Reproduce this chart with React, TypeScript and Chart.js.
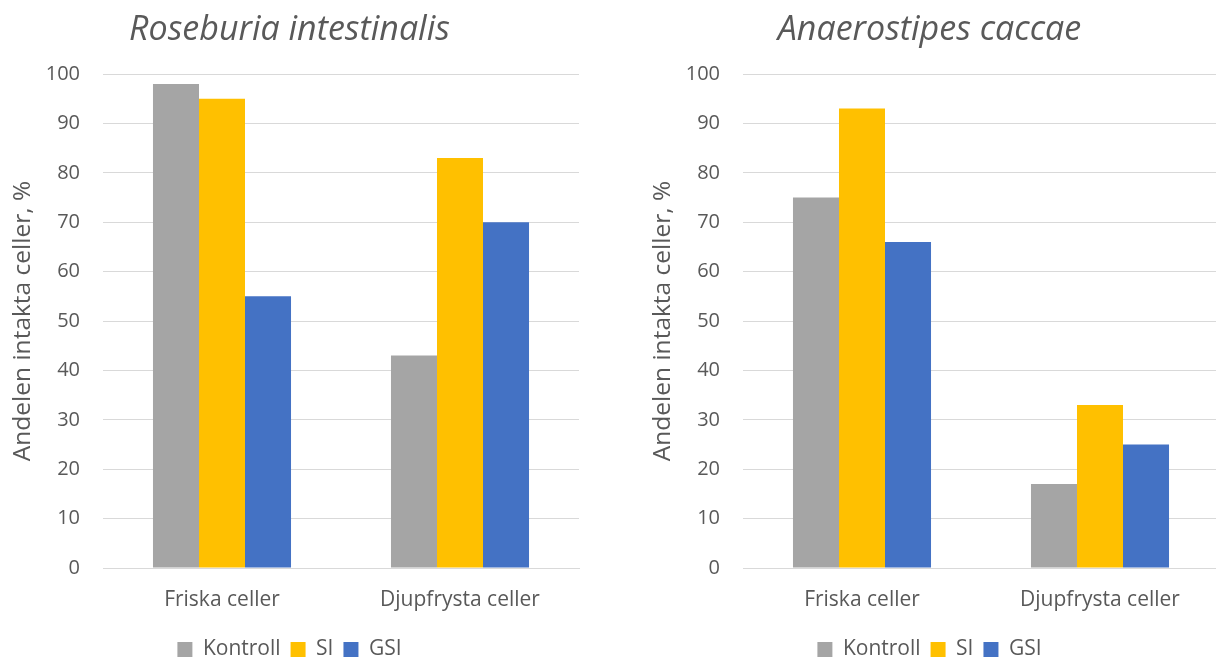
import React, { useEffect, useRef } from "react";
import { Chart, registerables } from "chart.js";

Chart.register(...registerables);

const categories = ["Friska celler", "Djupfrysta celler"];
const seriesNames = ["Kontroll", "SI", "GSI"];
const seriesColors = ["#A5A5A5", "#FFC000", "#4472C4"];

const roseburiaKontroll = [98, 43];
const roseburiaSI = [95, 83];
const roseburiaGSI = [55, 70];

const anaerostipesKontroll = [75, 17];
const anaerostipesSI = [93, 33];
const anaerostipesGSI = [66, 25];

const yTicks = [0, 10, 20, 30, 40, 50, 60, 70, 80, 90, 100];
const yTitle = "Andelen intakta celler, %";

const FONT = "'Open Sans', 'Noto Sans', sans-serif";
const TEXT = "#595959";

const CANVAS_W = 590;
const CANVAS_H = 670;

function BarChart({ title, values }: { title: string; values: number[][] }) {
  const ref = useRef<HTMLCanvasElement | null>(null);
  useEffect(() => {
    if (!ref.current) return;
    const chart = new Chart(ref.current, {
      type: "bar",
      data: {
        labels: categories,
        datasets: seriesNames.map((n, i) => ({
          label: n,
          data: values[i],
          backgroundColor: seriesColors[i],
          borderWidth: 0,
          categoryPercentage: 0.58,
          barPercentage: 1,
        })),
      },
      options: {
        animation: false,
        responsive: false,
        maintainAspectRatio: false,
        layout: { padding: { left: 0, right: 11, top: 0, bottom: 0 } },
        plugins: {
          title: {
            display: true,
            text: title,
            color: TEXT,
            font: { family: FONT, size: 34, style: "italic", weight: "normal" },
            padding: { top: 9.6, bottom: 23.6 },
          },
          legend: {
            display: true,
            position: "bottom",
            labels: {
              color: TEXT,
              font: { family: FONT, size: 21 },
              boxWidth: 15,
              boxHeight: 15,
              padding: 10,
            },
          },
          tooltip: { enabled: false },
        },
        scales: {
          x: {
            grid: { display: false, drawTicks: false },
            border: { display: true, color: "#D9D9D9", width: 1 },
            ticks: { color: TEXT, font: { family: FONT, size: 21 }, padding: 19 },
            afterFit: (s: any) => {
              s.height = 61;
            },
          },
          y: {
            min: 0,
            max: 100,
            afterBuildTicks: (s: any) => {
              s.ticks = yTicks.map((v) => ({ value: v }));
            },
            grid: { color: "#D9D9D9", lineWidth: 1, drawTicks: false },
            border: { display: false },
            ticks: { color: TEXT, font: { family: FONT, size: 20 }, padding: 23 },
            title: {
              display: true,
              text: yTitle,
              color: TEXT,
              font: { family: FONT, size: 24.5 },
              padding: { top: 8, bottom: 0 },
            },
            afterFit: (s: any) => {
              s.width = 103;
            },
          },
        },
      },
    });
    return () => chart.destroy();
  }, []);
  return (
    <canvas
      ref={ref}
      width={CANVAS_W}
      height={CANVAS_H}
      style={{ width: CANVAS_W, height: CANVAS_H, display: "block" }}
    />
  );
}

export default function App() {
  return (
    <div
      style={{
        position: "fixed",
        left: 0,
        top: 0,
        width: 1216,
        height: 658,
        overflow: "hidden",
        background: "#fff",
      }}
    >
      <div style={{ position: "absolute", left: 0, top: 0 }}>
        <BarChart
          title="Roseburia intestinalis"
          values={[roseburiaKontroll, roseburiaSI, roseburiaGSI]}
        />
      </div>
      <div style={{ position: "absolute", left: 640, top: 0 }}>
        <BarChart
          title="Anaerostipes caccae"
          values={[anaerostipesKontroll, anaerostipesSI, anaerostipesGSI]}
        />
      </div>
    </div>
  );
}
